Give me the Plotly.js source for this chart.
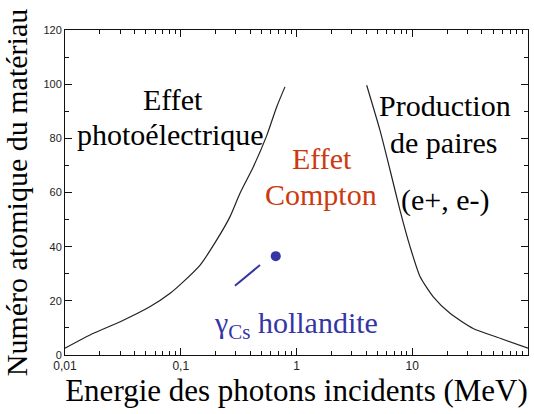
<!DOCTYPE html>
<html>
<head>
<meta charset="utf-8">
<script src="https://cdn.plot.ly/plotly-3.0.1.min.js"></script>
<style>html,body{margin:0;padding:0;background:#fff;}#chart{width:534px;height:414px;}</style>
</head>
<body>
<div id="chart"></div>
<script>
// Photoelectric / Compton boundary (energy MeV, Z)
const photoX = [0.01, 0.0176, 0.030, 0.054, 0.081, 0.105, 0.147, 0.204, 0.266, 0.325, 0.424, 0.553, 0.674, 0.795];
const photoY = [2.5, 8, 12.3, 17.8, 22.8, 27, 33.2, 42.4, 51, 59.7, 69.5, 81, 91.6, 99];
// Compton / pair production boundary
const pairX = [4.04, 5.26, 6.43, 7.83, 9.57, 11.7, 15.2, 21.2, 33.6, 57.3, 100];
const pairY = [99.6, 83, 68.3, 53.5, 40, 28.9, 21.5, 15.4, 9.8, 6.2, 2.5];
// Cs-137 gamma in hollandite
const csX = [0.662];
const csY = [36.5];
const pointerX = [0.294, 0.484];
const pointerY = [25.6, 33.2];

const serif = 'Liberation Serif';
const sans = 'Liberation Sans';
const blue = '#3535a5';
const red = '#cc3a10';

const traces = [
  {x: photoX, y: photoY, mode: 'lines', line: {color: '#222', width: 1.2, shape: 'spline', smoothing: 0.6}, hoverinfo: 'skip'},
  {x: pairX, y: pairY, mode: 'lines', line: {color: '#222', width: 1.2, shape: 'spline', smoothing: 0.6}, hoverinfo: 'skip'},
  {x: pointerX, y: pointerY, mode: 'lines', line: {color: blue, width: 2}, hoverinfo: 'skip'},
  {x: csX, y: csY, mode: 'markers', marker: {color: blue, size: 10}, hoverinfo: 'skip'}
];

function ann(text, x, y, color) {
  return {text: text, xref: 'paper', yref: 'paper', x: x, y: y, showarrow: false,
    xanchor: 'center', yanchor: 'middle', font: {family: serif, size: 30, color: color}};
}

const layout = {
  width: 534, height: 414,
  margin: {l: 65, r: 6, t: 30, b: 59},
  showlegend: false,
  separators: ', ',
  xaxis: {
    type: 'log', range: [-2, 2], dtick: 1,
    ticks: 'inside', ticklen: 7, tickcolor: '#111',
    minor: {ticks: 'inside', ticklen: 4, tickcolor: '#111'},
    showline: true, linecolor: '#111', mirror: 'allticks',
    showgrid: false, zeroline: false,
    tickfont: {family: sans, size: 12, color: '#222'},
    title: {text: 'Energie des photons incidents (MeV)', font: {family: serif, size: 31, color: '#000'}, standoff: 3}
  },
  yaxis: {
    range: [0, 120], dtick: 20,
    ticks: 'inside', ticklen: 7, tickcolor: '#111',
    minor: {ticks: 'inside', ticklen: 4, dtick: 10, tickcolor: '#111'},
    showline: true, linecolor: '#111', mirror: 'allticks',
    showgrid: false, zeroline: false,
    tickfont: {family: sans, size: 11, color: '#222'},
    title: {text: 'Numéro atomique du matériau', font: {family: serif, size: 30, color: '#000'}, standoff: 6}
  },
  annotations: [
    ann('Effet', 0.233, 0.785, '#000'),
    ann('photoélectrique', 0.227, 0.677, '#000'),
    ann('Effet', 0.555, 0.606, red),
    ann('Compton', 0.553, 0.495, red),
    ann('Production', 0.821, 0.769, '#000'),
    ann('de paires', 0.817, 0.655, '#000'),
    ann('(e+, e-)', 0.821, 0.477, '#000'),
    ann('γ<sub>Cs</sub> hollandite', 0.499, 0.092, blue)
  ]
};

Plotly.newPlot('chart', traces, layout, {displayModeBar: false});
</script>
</body>
</html>
